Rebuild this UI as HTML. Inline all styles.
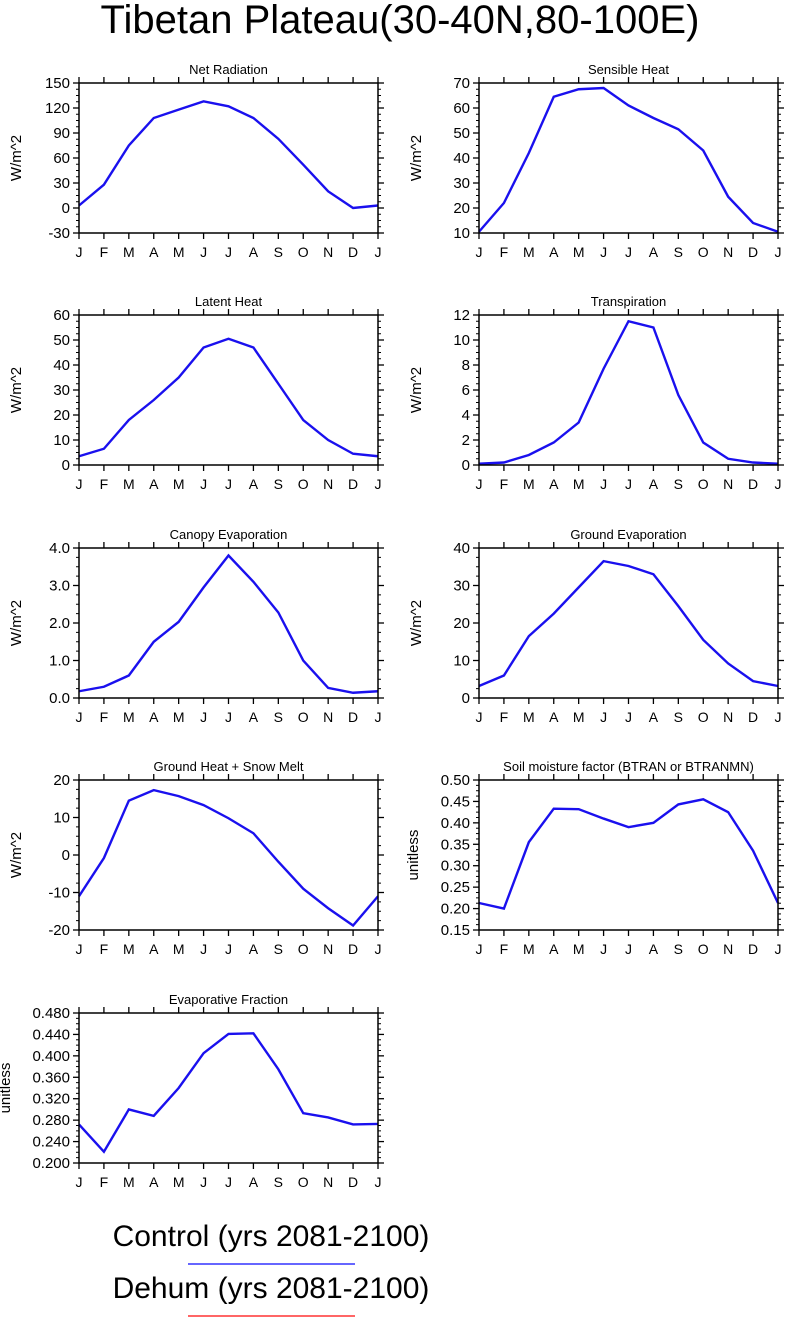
<!DOCTYPE html>
<html><head><meta charset="utf-8"><style>
body{margin:0;background:#fff;}
svg{display:block;font-family:"Liberation Sans",Arial,sans-serif;}
</style></head><body>
<svg id="s" width="787" height="1318" viewBox="0 0 787 1318">
<text x="400" y="33" font-size="40" text-anchor="middle">Tibetan Plateau(30-40N,80-100E)</text>
<text x="271" y="1246" font-size="30" text-anchor="middle">Control (yrs 2081-2100)</text>
<line x1="188" y1="1264" x2="355" y2="1264" stroke="#3333ff" stroke-width="1.5"/>
<text x="271" y="1298" font-size="30" text-anchor="middle">Dehum (yrs 2081-2100)</text>
<line x1="188" y1="1316" x2="355" y2="1316" stroke="#ff3333" stroke-width="1.5"/>
</svg>
<script>
const months=["J","F","M","A","M","J","J","A","S","O","N","D","J"];
const netRad=[3,28,75,108,118,128,122,108,83,52,20,0,3];
const sensible=[10.5,22,42,64.5,67.5,68,61,56,51.5,43,24.5,14,10.5];
const latent=[3.5,6.5,18,26,35,47,50.5,47,32.5,18,10,4.5,3.5];
const transp=[0.1,0.2,0.8,1.8,3.4,7.7,11.5,11,5.6,1.8,0.5,0.2,0.1];
const canopy=[0.18,0.3,0.6,1.5,2.03,2.95,3.8,3.1,2.28,1.0,0.27,0.14,0.18];
const ground=[3.2,6,16.5,22.5,29.5,36.5,35.2,33,24.5,15.5,9.2,4.5,3.2];
const gheat=[-11,-0.8,14.5,17.3,15.7,13.3,9.8,5.8,-1.8,-9,-14.2,-18.8,-11];
const btran=[0.213,0.2,0.355,0.433,0.432,0.41,0.39,0.4,0.443,0.455,0.425,0.335,0.213];
const evfrac=[0.272,0.221,0.300,0.288,0.340,0.405,0.441,0.442,0.375,0.293,0.285,0.272,0.273];
const panels=[
 {t:"Net Radiation",d:netRad,min:-30,max:150,step:30,dec:0,u:"W/m^2",c:0,r:0,name:"net-radiation"},
 {t:"Sensible Heat",d:sensible,min:10,max:70,step:10,dec:0,u:"W/m^2",c:1,r:0,name:"sensible-heat"},
 {t:"Latent Heat",d:latent,min:0,max:60,step:10,dec:0,u:"W/m^2",c:0,r:1,name:"latent-heat"},
 {t:"Transpiration",d:transp,min:0,max:12,step:2,dec:0,u:"W/m^2",c:1,r:1,name:"transpiration"},
 {t:"Canopy Evaporation",d:canopy,min:0,max:4,step:1,dec:1,u:"W/m^2",c:0,r:2,name:"canopy-evaporation"},
 {t:"Ground Evaporation",d:ground,min:0,max:40,step:10,dec:0,u:"W/m^2",c:1,r:2,name:"ground-evaporation"},
 {t:"Ground Heat + Snow Melt",d:gheat,min:-20,max:20,step:10,dec:0,u:"W/m^2",c:0,r:3,name:"ground-heat"},
 {t:"Soil moisture factor (BTRAN or BTRANMN)",d:btran,min:0.15,max:0.5,step:0.05,dec:2,u:"unitless",c:1,r:3,name:"soil-moisture"},
 {t:"Evaporative Fraction",d:evfrac,min:0.2,max:0.48,step:0.04,dec:3,u:"unitless",c:0,r:4,name:"evaporative-fraction"}
];
const tops=[83,315,548,780,1013];
const svg=document.getElementById('s');
const NS="http://www.w3.org/2000/svg";
function mk(tag,attrs,parent){const e=document.createElementNS(NS,tag);for(const k in attrs)e.setAttribute(k,attrs[k]);parent.appendChild(e);return e;}
panels.forEach(p=>{
 const x0=p.c?479:79,x1=x0+299,y0=tops[p.r],y1=y0+150;
 const g=mk('g',{},svg);
 
 
 const sx=i=>x0+(x1-x0)*i/12;
 const sy=v=>y1-(y1-y0)*(v-p.min)/(p.max-p.min);
 const tt=mk('text',{x:(x0+x1)/2,y:y0-9,'font-size':13,'text-anchor':'middle'},g);tt.textContent=p.t;
 
 
 const lx=p.u==="unitless"?(p.dec===3?x0-69:x0-61):x0-58;
 const yl=mk('text',{x:lx,y:(y0+y1)/2,'font-size':15,'text-anchor':'middle',transform:`rotate(-90 ${lx} ${(y0+y1)/2})`},g);yl.textContent=p.u;
 
 
 const nT=Math.round((p.max-p.min)/p.step);
 for(let k=0;k<=nT;k++){
  const v=p.min+k*p.step,y=sy(v);
  mk('line',{x1:x0,y1:y,x2:x0-6,y2:y,stroke:'#000','stroke-width':1.3},g);
  mk('line',{x1:x1,y1:y,x2:x1+6,y2:y,stroke:'#000','stroke-width':1.3},g);
  const lb=mk('text',{x:x0-9,y:y+5,'font-size':15,'text-anchor':'end'},g);lb.textContent=v.toFixed(p.dec);
  
  
  if(k<nT){for(let m=1;m<4;m++){const ym=sy(v+p.step*m/4);
   mk('line',{x1:x0,y1:ym,x2:x0-3,y2:ym,stroke:'#000'},g);
   mk('line',{x1:x1,y1:ym,x2:x1+3,y2:ym,stroke:'#000'},g);}}
 }
 months.forEach((m,i)=>{const x=sx(i);
  mk('line',{x1:x,y1:y1,x2:x,y2:y1+6,stroke:'#000','stroke-width':1.3},g);
  mk('line',{x1:x,y1:y0,x2:x,y2:y0-6,stroke:'#000','stroke-width':1.3},g);
  const lb=mk('text',{x:x,y:y1+24,'font-size':14,'text-anchor':'middle'},g);lb.textContent=m;
  
  
 });
 const pl=mk('polyline',{points:p.d.map((v,i)=>sx(i)+','+sy(v)).join(' '),fill:'none',stroke:'#1a10ee','stroke-width':2.4},g);
 
 
 const bx=mk('rect',{x:x0,y:y0,width:x1-x0,height:y1-y0,fill:'none',stroke:'#000','stroke-width':1.5},g);
 
 
});
</script>
</body></html>
